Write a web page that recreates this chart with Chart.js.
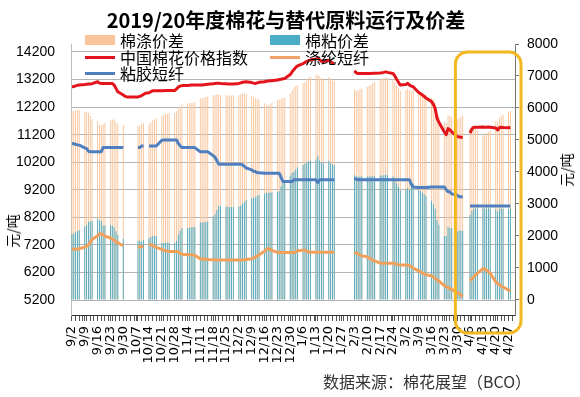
<!DOCTYPE html>
<html>
<head>
<meta charset="utf-8">
<script src="https://cdn.jsdelivr.net/npm/chart.js@4.4.1/dist/chart.umd.min.js"></script>
<style>
  body { margin: 0; background: #fff; }
  #wrap { position: relative; width: 580px; height: 397px; font-family: "Noto Sans CJK SC", sans-serif; color: #000; }
  #wrap canvas { position: absolute; left: 0; top: 0; }
  .title { position: absolute; left: 0; top: 8px; width: 572px; text-align: center; font-size: 20px; font-weight: bold; line-height: 24px; }
  .leg { position: absolute; display: flex; align-items: center; height: 16px; font-size: 16px; line-height: 16px; white-space: nowrap; }
  .leg i { display: inline-block; width: 30px; margin-right: 5px; }
  .leg .box { height: 10px; }
  .leg .ln { height: 3px; }
  .ytitle { position: absolute; font-size: 14px; line-height: 16px; white-space: nowrap; transform: translate(-50%, -50%) rotate(-90deg); }
  .source { position: absolute; left: 323px; top: 371px; font-size: 16px; line-height: 20px; color: #333; }
</style>
</head>
<body>
<div id="wrap">
  <canvas id="chart" width="580" height="397"></canvas>
  <div class="title">2019/20年度棉花与替代原料运行及价差</div>
  <div class="leg" style="left:85px;top:32px"><i class="box" style="background:#f9c49a"></i>棉涤价差</div>
  <div class="leg" style="left:270px;top:32px"><i class="box" style="background:#4bacc6"></i>棉粘价差</div>
  <div class="leg" style="left:85px;top:49px"><i class="ln" style="background:#e3141b"></i>中国棉花价格指数</div>
  <div class="leg" style="left:270px;top:49px"><i class="ln" style="background:#eea26a"></i>涤纶短纤</div>
  <div class="leg" style="left:85px;top:65px"><i class="ln" style="background:#4f7fbe"></i>粘胶短纤</div>
  <div class="ytitle" style="left:12px;top:231px">元/吨</div>
  <div class="ytitle" style="left:566px;top:170px">元/吨</div>
  <div class="source">数据来源：棉花展望（BCO）</div>
</div>
<script>
// 축 눈금
const leftTicks = [5200, 6200, 7200, 8200, 9200, 10200, 11200, 12200, 13200, 14200];
const rightTicks = [0, 1000, 2000, 3000, 4000, 5000, 6000, 7000, 8000];
const makeupDays = ['10/12'];   // 주말 보충 근무일
const highlightFrom = '3/29';

// 거래일 (평일 + 보충 근무일), 주 단위로 한 줄씩
const cottonIndex = [
  12940, 12950, 12970, 12990, 13000,   // 9/2
  13020, 13030, 13040, 13040, 13050,
  13120, 13070, 13060, 13060, 13060,
  13060, 13060, 13000, 12880, 12760,
  12640, 12590, 12570, 12570, 12570,   // 9/30
  12570, 12570, 12590, 12620, 12660, 12700,
  12720, 12760, 12790, 12790, 12790,
  12790, 12790, 12800, 12800, 12800,
  12800, 12860, 12930, 12960, 12980,
  12980, 12990, 13000, 13000, 13000,   // 11/4
  13000, 13000, 13010, 13020, 13030,
  13050, 13060, 13070, 13070, 13060,
  13050, 13040, 13040, 13040, 13040,
  13060, 13080, 13100, 13110, 13120,   // 12/2
  13090, 13070, 13060, 13080, 13100,
  13120, 13140, 13150, 13160, 13160,
  13180, 13200, 13210, 13230, 13240,
  13380, 13480, 13560, 13640, 13700,   // 12/30
  13780, 13820, 13860, 13890, 13910,
  13950, 13970, 13920, 13860, 13850,
  13900, 13850, 13800, 13780, null,
  null, null, null, null, null,
  13520, 13440, 13420, 13420, 13420,   // 2/3
  13420, 13420, 13420, 13430, 13430,
  13440, 13450, 13460, 13480, 13460,
  13420, 13330, 13210, 13100, 13000,
  13020, 13060, 13000, 12960, 12940,   // 3/2
  12730, 12690, 12640, 12590, 12530,
  12400, 12300, 12150, 11800, 11650,
  11300, 11200, 11420, 11380, 11300,
  11130, 11120, 11110, 11100, null,    // 3/30
  11260, 11400, 11470, 11470, 11470,
  11480, 11470, 11470, 11480, 11470,
  11440, 11370, 11450, 11470, 11460,
  11450, 11460, null, null
];

const psfPrice = [
  7050, 7040, 7040, 7050, 7060,
  7120, 7150, 7200, 7300, 7400,
  7530, 7600, 7610, 7560, 7520,
  7450, 7410, 7370, 7320, 7270,
  7170, null, null, null, null,
  null, 7130, 7130, 7130, 7140, null,
  7230, 7210, 7180, 7150, 7110,
  7040, 7010, 6990, 6970, 6960,
  6960, 6960, 6950, 6900, 6860,
  6840, 6840, 6840, 6840, 6820,
  6700, 6690, 6680, 6680, 6670,
  6660, 6650, 6650, 6650, 6650,
  6650, 6650, 6650, 6650, 6650,
  6650, 6650, 6650, 6660, 6670,
  6700, 6730, 6760, 6800, 6840,
  6970, 7030, 7070, 7040, 7000,
  6930, 6920, 6920, 6920, 6920,
  6920, 6920, 6920, 6950, 6990,
  7010, 7000, 6970, 6940, 6930,
  6930, 6930, 6930, 6930, 6930,
  6930, 6930, 6930, 6930, null,
  null, null, null, null, null,
  6940, 6900, 6870, 6830, 6810,
  6760, 6720, 6690, 6650, 6620,
  6540, 6530, 6530, 6530, 6530,
  6530, 6520, 6500, 6480, 6470,
  6470, 6460, 6450, 6410, 6360,
  6260, 6220, 6180, 6150, 6120,
  6080, 6030, 5980, 5930, 5890,
  5720, 5680, 5650, 5620, 5580,
  5480, 5430, 5380, 5330, null,
  5900, 5960, 6030, 6100, 6170,
  6340, 6320, 6270, 6220, 6170,
  5860, 5800, 5750, 5700, 5670,
  5560, 5540, null, null
];

const vsfPrice = [
  10880, 10870, 10850, 10830, 10820,
  10720, 10690, 10600, 10580, 10580,
  10580, 10580, 10580, 10730, 10730,
  10730, 10730, 10730, 10730, 10730,
  10730, null, null, null, null,
  null, 10730, 10730, 10790, 10790, null,
  10790, 10790, 10790, 10790, 10790,
  11000, 11010, 11010, 11010, 11010,
  11010, 11010, 10880, 10800, 10730,
  10730, 10730, 10730, 10730, 10730,
  10580, 10580, 10580, 10580, 10580,
  10440, 10380, 10260, 10130, 10130,
  10130, 10130, 10130, 10130, 10130,
  10130, 10130, 10100, 10050, 9990,
  9920, 9870, 9860, 9820, 9820,
  9800, 9800, 9800, 9800, 9800,
  9800, 9800, 9650, 9500, 9500,
  9500, 9500, 9560, 9560, 9560,
  9560, 9560, 9560, 9560, 9560,
  9560, 9460, 9560, 9560, 9560,
  9560, 9560, 9560, 9560, null,
  null, null, null, null, null,
  9620, 9580, 9560, 9560, 9560,
  9560, 9560, 9560, 9560, 9560,
  9560, 9560, 9560, 9560, 9560,
  9560, 9560, 9560, 9560, 9560,
  9560, 9560, 9560, 9400, 9300,
  9280, 9280, 9280, 9280, 9280,
  9300, 9300, 9300, 9300, 9300,
  9300, 9200, 9130, 9130, 9050,
  9000, 8950, 8950, 8940, null,
  8610, 8610, 8610, 8610, 8610,
  8610, 8610, 8610, 8610, 8610,
  8610, 8610, 8610, 8610, 8610,
  8610, 8610, null, null
];

// 棉涤价差 (오른쪽 축)
const cottonPsfSpread = [
  5890, 5910, 5930, 5940, 5940,
  5900, 5880, 5840, 5740, 5650,
  5590, 5470, 5450, 5500, 5540,
  5610, 5650, 5630, 5560, 5490,
  5470, null, null, null, null,
  null, 5440, 5460, 5490, 5520, null,
  5490, 5550, 5610, 5640, 5680,
  5750, 5780, 5810, 5830, 5840,
  5840, 5900, 5980, 6060, 6120,
  6140, 6150, 6160, 6160, 6180,
  6300, 6310, 6330, 6340, 6360,
  6390, 6410, 6420, 6420, 6410,
  6400, 6390, 6390, 6390, 6390,
  6410, 6430, 6450, 6450, 6450,
  6390, 6340, 6300, 6280, 6260,
  6150, 6110, 6080, 6120, 6160,
  6250, 6280, 6290, 6310, 6320,
  6460, 6560, 6640, 6690, 6710,
  6770, 6820, 6890, 6950, 6980,
  7020, 7040, 6990, 6930, 6920,
  6970, 6920, 6870, 6850, null,
  null, null, null, null, null,
  6580, 6540, 6550, 6590, 6610,
  6660, 6700, 6730, 6780, 6810,
  6900, 6920, 6930, 6950, 6930,
  6890, 6810, 6710, 6620, 6530,
  6550, 6600, 6550, 6550, 6580,
  6470, 6470, 6460, 6440, 6410,
  6320, 6270, 6170, 5870, 5760,
  5580, 5520, 5770, 5760, 5720,
  5650, 5690, 5730, 5770, null,
  5360, 5440, 5440, 5370, 5300,
  5140, 5150, 5200, 5260, 5300,
  5580, 5570, 5700, 5770, 5790,
  5890, 5920, null, null
];

// 棉粘价差 (오른쪽 축)
const cottonVsfSpread = [
  2060, 2080, 2120, 2160, 2180,
  2300, 2340, 2440, 2460, 2470,
  2540, 2490, 2480, 2330, 2330,
  2330, 2330, 2270, 2150, 2030,
  1910, null, null, null, null,
  null, 1840, 1860, 1830, 1870, null,
  1930, 1970, 2000, 2000, 2000,
  1790, 1780, 1790, 1790, 1790,
  1790, 1850, 2050, 2160, 2250,
  2250, 2260, 2270, 2270, 2270,
  2420, 2420, 2430, 2440, 2450,
  2610, 2680, 2810, 2940, 2930,
  2920, 2910, 2910, 2910, 2910,
  2930, 2950, 3000, 3060, 3130,
  3170, 3200, 3200, 3260, 3280,
  3320, 3340, 3350, 3360, 3360,
  3380, 3400, 3560, 3730, 3740,
  3880, 3980, 4000, 4080, 4140,
  4220, 4260, 4300, 4330, 4350,
  4390, 4510, 4360, 4300, 4290,
  4340, 4290, 4240, 4220, null,
  null, null, null, null, null,
  3900, 3860, 3860, 3860, 3860,
  3860, 3860, 3860, 3870, 3870,
  3880, 3890, 3900, 3920, 3900,
  3860, 3770, 3650, 3540, 3440,
  3460, 3500, 3440, 3560, 3640,
  3450, 3410, 3360, 3310, 3250,
  3100, 3000, 2850, 2500, 2350,
  2000, 2000, 2290, 2250, 2250,
  2130, 2170, 2160, 2160, null,
  2650, 2790, 2860, 2860, 2860,
  2870, 2860, 2860, 2870, 2860,
  2830, 2760, 2840, 2860, 2850,
  2840, 2850, null, null
];

// 날짜 축: 2019/9/2 ~ 2020/4/30 달력일, 거래일은 평일 + 보충 근무일
const days = [];
const tradeDays = [];
for (let t = new Date(2019, 8, 2); t <= new Date(2020, 3, 30); t.setDate(t.getDate() + 1)) {
  const lbl = (t.getMonth() + 1) + '/' + t.getDate();
  days.push(lbl);
  const wd = t.getDay();
  if ((wd > 0 && wd < 6) || makeupDays.includes(lbl)) tradeDays.push(lbl);
}
const pts = arr => tradeDays.map((d, i) => ({ x: d, y: arr[i] }));

// 노란 강조 박스
const highlightBox = {
  id: 'highlightBox',
  afterDraw(chart) {
    const { ctx, chartArea, scales } = chart;
    const left = scales.x.getPixelForValue(days.indexOf(highlightFrom));
    const top = scales.y2.getPixelForValue(7750);
    const right = chartArea.right + 6;
    const bottom = chartArea.bottom + 18;
    ctx.save();
    ctx.strokeStyle = '#f3b71f';
    ctx.lineWidth = 3;
    ctx.beginPath();
    ctx.roundRect(left, top, right - left, bottom - top, 12);
    ctx.stroke();
    ctx.restore();
  }
};

const tickFont = { family: 'Liberation Sans', size: 14 };
const lineStyle = { type: 'line', yAxisID: 'y', borderWidth: 3, pointRadius: 0, borderJoinStyle: 'round', order: 0 };
const barStyle = { yAxisID: 'y2', grouped: false, barPercentage: 0.5, categoryPercentage: 1 };

new Chart(document.getElementById('chart').getContext('2d'), {
  type: 'bar',
  data: {
    labels: days,
    datasets: [
      { ...lineStyle, label: '中国棉花价格指数', data: pts(cottonIndex), borderColor: '#e3141b' },
      { ...lineStyle, label: '涤纶短纤', data: pts(psfPrice), borderColor: '#f2a15c' },
      { ...lineStyle, label: '粘胶短纤', data: pts(vsfPrice), borderColor: '#4f7fbe' },
      { ...barStyle, label: '棉粘价差', data: pts(cottonVsfSpread), backgroundColor: '#4bacc6', order: 1 },
      { ...barStyle, label: '棉涤价差', data: pts(cottonPsfSpread), backgroundColor: '#f9c49a', order: 2 }
    ]
  },
  options: {
    responsive: false,
    devicePixelRatio: 1,
    animation: false,
    events: [],
    layout: { padding: { top: 44, left: 0, right: 0, bottom: 0 } },
    plugins: { legend: { display: false }, tooltip: { enabled: false } },
    scales: {
      x: {
        offset: true,
        grid: { drawOnChartArea: false, drawTicks: true, tickLength: 6, color: '#555', offset: false },
        border: { color: '#333' },
        ticks: {
          autoSkip: false, minRotation: 90, maxRotation: 90, padding: 5, color: '#000',
          font: { family: 'DejaVu Sans', size: 13 },
          callback: (v, i) => i % 7 === 0 ? days[i] : (i % 2 === 0 ? '' : null)
        },
        afterFit: s => { s.height = 82; }
      },
      y: {
        position: 'left', min: 4656, max: 14490,
        afterBuildTicks: s => { s.ticks = leftTicks.map(v => ({ value: v })); },
        grid: { color: '#b4b4b4', drawTicks: false },
        border: { color: '#bdbdbd' },
        ticks: { padding: 16, color: '#000', font: tickFont, callback: v => String(v) },
        afterFit: s => { s.width = 71; }
      },
      y2: {
        position: 'right', min: -469, max: 8000,
        afterBuildTicks: s => { s.ticks = rightTicks.map(v => ({ value: v })); },
        grid: { drawOnChartArea: false, tickLength: 4, color: '#777' },
        border: { color: '#777' },
        ticks: { padding: 8, color: '#000', font: tickFont, callback: v => String(v) },
        afterFit: s => { s.width = 65; }
      }
    }
  },
  plugins: [highlightBox]
});
</script>
</body>
</html>
